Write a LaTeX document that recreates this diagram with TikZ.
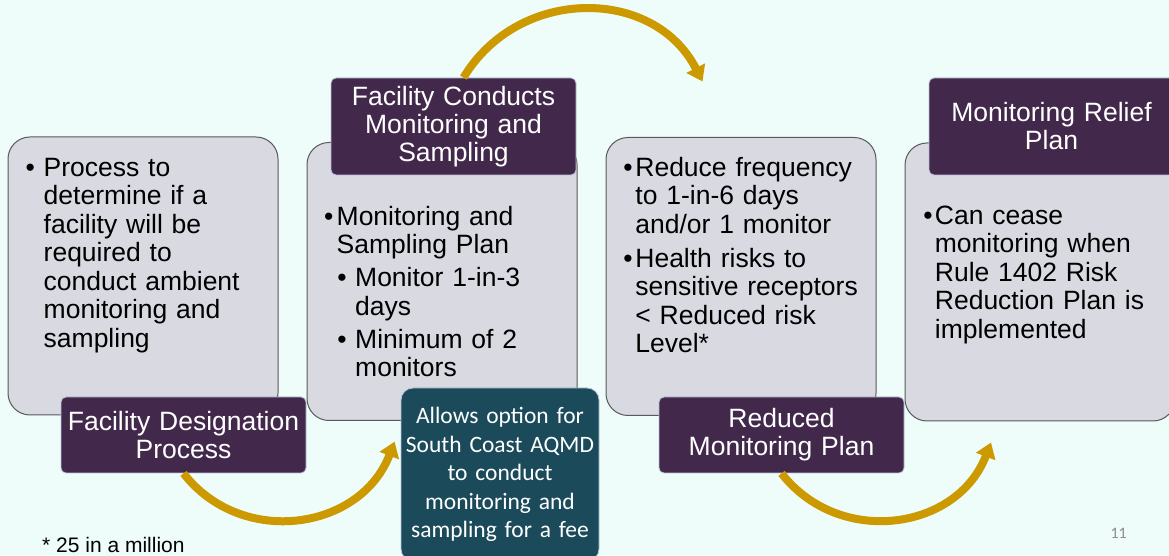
\documentclass[tikz,border=0pt]{standalone}
\usepackage{fontspec}
\setmainfont{Liberation Sans}
\newfontfamily\slidefont{Carlito}
\usepackage{tikz}
\usetikzlibrary{arrows.meta}
\definecolor{backdrop}{HTML}{EEFDFA}
\definecolor{panelgray}{HTML}{D9D9E2}
\definecolor{plum}{HTML}{42294C}
\definecolor{petrol}{HTML}{1B4A5B}
\definecolor{gold}{HTML}{CC9900}
\definecolor{rim}{HTML}{BCC0D8}
\tikzstyle{panel}=[rectangle, rounded corners=22pt, draw=black!65, line width=1pt, fill=panelgray, minimum width=270pt, minimum height=278pt, inner sep=0pt]
\tikzstyle{heading}=[rectangle, rounded corners=5pt, draw=rim, line width=0.8pt, fill=plum, text=white, text width=240pt, text centered, minimum width=245pt, inner sep=0pt, font=\fontsize{26.5}{28}\selectfont]
\tikzstyle{bullets}=[anchor=base west, inner sep=0pt, text width=255pt, align=left, font=\fontsize{26.5}{28.5}\selectfont]
\tikzstyle{option}=[rectangle, rounded corners=12pt, draw=rim, line width=0.8pt, fill=petrol, text=white, text width=195pt, text centered, minimum width=198pt, minimum height=173pt, inner sep=0pt, font=\slidefont\fontsize{23.5}{28.5}\selectfont]
\tikzstyle{flow}=[draw=gold, line width=8pt, -{Triangle[width=20pt, length=15pt]}]

\begin{document}
\begin{tikzpicture}[x=1pt, y=1pt, node distance=299pt]
      %
      \path[fill=backdrop] (0,0) rectangle (1169,556);
      \path[use as bounding box] (0,0) rectangle (1169,556);
      %
      % Four panels
      %
      \path node[panel] (screening) at (143,280) {};
      \path node[panel, right of=screening, yshift=-5.5pt] (sampling) {};
      \path node[panel, right of=sampling, yshift=5pt] (reduction) {};
      \path node[panel, right of=reduction, yshift=-5.5pt] (relief) {};
      %
      % Panel texts
      %
      \path node[bullets] (screening text) at ([xshift=18pt, yshift=-40pt]screening.north west)
        {\makebox[18pt][l]{\textbullet}Process to\\
         \hspace*{18pt}determine if a\\
         \hspace*{18pt}facility will be\\
         \hspace*{18pt}required to\\
         \hspace*{18pt}conduct ambient\\
         \hspace*{18pt}monitoring and\\
         \hspace*{18pt}sampling};
      \path node[bullets] (sampling text) at ([xshift=17.5pt, yshift=-83.5pt]sampling.north west)
        {\makebox[12.5pt][l]{\textbullet}Monitoring and\\
         \hspace*{12.5pt}Sampling Plan\\[4.4pt]
         \hspace*{13.2pt}\makebox[17.8pt][l]{\textbullet}Monitor 1-in-3\\
         \hspace*{31pt}days\\[4.4pt]
         \hspace*{13.2pt}\makebox[17.8pt][l]{\textbullet}Minimum of 2\\
         \hspace*{31pt}monitors};
      \path node[bullets] (reduction text) at ([xshift=17.7pt, yshift=-39.5pt]reduction.north west)
        {\makebox[12pt][l]{\textbullet}Reduce frequency\\
         \hspace*{12pt}to 1-in-6 days\\
         \hspace*{12pt}and/or 1 monitor\\[5.5pt]
         \makebox[12pt][l]{\textbullet}Health risks to\\
         \hspace*{12pt}sensitive receptors\\
         \hspace*{12pt}< Reduced risk\\
         \hspace*{12pt}Level*};
      \path node[bullets] (relief text) at ([xshift=18.7pt, yshift=-82pt]relief.north west)
        {\makebox[11.5pt][l]{\textbullet}Can cease\\
         \hspace*{11.5pt}monitoring when\\
         \hspace*{11.5pt}Rule 1402 Risk\\
         \hspace*{11.5pt}Reduction Plan is\\
         \hspace*{11.5pt}implemented};
      %
      % Headings
      %
      \path node[heading, minimum height=76pt, node distance=159pt, below of=screening, xshift=40.5pt]
        (designation) {Facility Designation\\Process};
      \path node[heading, minimum height=97pt, node distance=155pt, above of=sampling, xshift=11.5pt]
        (conducts) {Facility Conducts\\Monitoring and\\Sampling};
      \path node[heading, minimum height=76pt, node distance=158.5pt, below of=reduction, xshift=40.5pt]
        (reduced plan) {Reduced\\Monitoring Plan};
      \path node[heading, minimum height=97pt, node distance=155.5pt, above of=relief, xshift=11.5pt]
        (relief plan) {Monitoring Relief\\Plan};
      %
      % Option box
      %
      \path node[option, node distance=193pt, below of=sampling, xshift=58pt]
        (fee option) {Allows option for\\South Coast AQMD\\to conduct\\monitoring and\\sampling for a fee};
      %
      % Designation --> Sampling --> Reduced --> Relief
      %
      \coordinate (fee entry) at ([xshift=-6pt, yshift=-54pt]fee option.north west);
      \coordinate (reduction entry) at ([xshift=97pt, yshift=55.5pt]reduction.north west);
      \coordinate (relief entry) at ([xshift=-49pt, yshift=-21pt]relief.south);
      \path [flow] (designation.south) to[out=-52, in=-111, looseness=1.14] (fee entry);
      \path [flow] ([xshift=10pt]conducts.north) to[out=59, in=117, looseness=1.14] (reduction entry);
      \path [flow] (reduced plan.south) to[out=-52, in=-111, looseness=1.14] (relief entry);
      %
      % Footnote and page number
      %
      \path node[anchor=base west, inner sep=0pt, font=\fontsize{21}{24}\selectfont] (footnote) at (42,3) {* 25 in a million};
      \path node[anchor=base east, inner sep=0pt, text=black!45, font=\slidefont\fontsize{16}{18}\selectfont] (page number) at (1127,17) {11};
      %
    \end{tikzpicture}
\end{document}
